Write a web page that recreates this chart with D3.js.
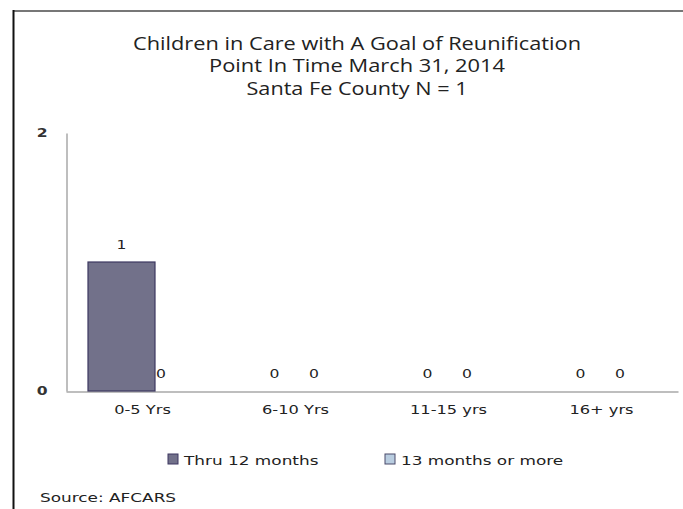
<!DOCTYPE html>
<html>
<head>
<meta charset="utf-8">
<script src="https://cdn.jsdelivr.net/npm/d3@7"></script>
<style>
  html, body { margin: 0; padding: 0; background: #fff; }
  svg { display: block; }
</style>
</head>
<body>
<svg id="chart" width="683" height="509"></svg>
<script>
const categories = ["0-5 Yrs", "6-10 Yrs", "11-15 yrs", "16+ yrs"];
const seriesNames = ["Thru 12 months", "13 months or more"];
const thru12 = [1, 0, 0, 0];
const over13 = [0, 0, 0, 0];
const yTicks = [0, 2];
const titleLines = [
  "Children in Care with A Goal of Reunification",
  "Point In Time March 31, 2014",
  "Santa Fe County N = 1"
];
const sourceText = "Source: AFCARS";

const colors = ["#72718a", "#b9cde0"];
const strokes = ["#3d3760", "#4a4a6a"];
const seriesValues = [thru12, over13];
const SX = 1.3; // horizontal stretch of the small text
const FONT = "'DejaVu Sans', sans-serif";

const svg = d3.select("#chart");

// frame
svg.append("line").attr("x1", 13).attr("x2", 683).attr("y1", 11).attr("y2", 11)
  .attr("stroke", "#777").attr("stroke-width", 2);
svg.append("line").attr("x1", 13.5).attr("x2", 13.5).attr("y1", 10).attr("y2", 509)
  .attr("stroke", "#111").attr("stroke-width", 2);

// title
const titleWidths = [448, 296, 221];
svg.append("g").selectAll("text").data(titleLines).join("text")
  .attr("x", 357).attr("y", (d, i) => 50 + i * 22.3)
  .attr("text-anchor", "middle")
  .attr("font-family", "'Open Sans', sans-serif")
  .attr("font-size", 17.5)
  .attr("fill", "#222")
  .attr("textLength", (d, i) => titleWidths[i])
  .attr("lengthAdjust", "spacingAndGlyphs")
  .text(d => d);

const plotLeft = 66, plotRight = 678, plotTop = 133, plotBottom = 391;

const x0 = d3.scaleBand().domain(categories).range([plotLeft, plotRight]).padding(0);
const x1 = d3.scaleBand().domain(d3.range(seriesNames.length)).range([22, 22 + 134]);
const y = d3.scaleLinear().domain([0, 2]).range([plotBottom, plotTop]);

// axes
const yAxis = d3.axisLeft(y).tickValues(yTicks).tickSize(0).tickPadding(19).tickFormat(d3.format("d"));
const gy = svg.append("g").attr("transform", `translate(${plotLeft + 0.5},0)`).call(yAxis);
gy.select(".domain").attr("stroke", "#a8a8a8").attr("stroke-width", 1.5);
gy.selectAll("text").attr("font-family", FONT).attr("font-size", 12)
  .attr("font-weight", "bold").attr("fill", "#333")
  .attr("x", -19 / SX).attr("transform", `scale(${SX},1)`);

const xAxis = d3.axisBottom(x0).tickSize(0).tickPadding(14);
const gx = svg.append("g").attr("transform", `translate(0,${plotBottom + 0.5})`).call(xAxis);
gx.select(".domain").attr("stroke", "#a8a8a8").attr("stroke-width", 1.5);
gx.selectAll("text").attr("font-family", FONT).attr("font-size", 12.5)
  .attr("fill", "#222").attr("transform", `scale(${SX},1)`);

// bars
const rows = [];
seriesValues.forEach((vals, s) => vals.forEach((v, i) => rows.push({ s, cat: categories[i], v })));

svg.append("g").selectAll("rect").data(rows.filter(d => d.v > 0)).join("rect")
  .attr("x", d => x0(d.cat) + x1(d.s))
  .attr("y", d => y(d.v))
  .attr("width", x1.bandwidth())
  .attr("height", d => y(0) - y(d.v))
  .attr("fill", d => colors[d.s])
  .attr("stroke", d => strokes[d.s])
  .attr("stroke-width", 1.2);

// data labels
svg.append("g").selectAll("g").data(rows).join("g")
  .attr("transform", d => `translate(${x0(d.cat) + x1(d.s) + (d.s === 0 ? x1.bandwidth() / 2 : 6)},${y(d.v) - 13})`)
  .append("text")
  .attr("transform", `scale(${SX},1)`)
  .attr("text-anchor", "middle")
  .attr("font-family", FONT)
  .attr("font-size", 12)
  .attr("fill", "#222")
  .text(d => d.v);

// legend
const legendX = [168, 385];
const lg = svg.append("g").selectAll("g").data(seriesNames).join("g")
  .attr("transform", (d, i) => `translate(${legendX[i]},454)`);
lg.append("rect").attr("width", 10).attr("height", 10)
  .attr("fill", (d, i) => colors[i]).attr("stroke", (d, i) => strokes[i]).attr("stroke-width", 1);
lg.append("text").attr("x", 16 / SX).attr("y", 10.5)
  .attr("transform", `scale(${SX},1)`)
  .attr("font-family", FONT).attr("font-size", 13)
  .attr("fill", "#222")
  .text(d => d);

// source
svg.append("text").attr("x", 40 / SX).attr("y", 502)
  .attr("transform", `scale(${SX},1)`)
  .attr("font-family", FONT).attr("font-size", 13)
  .attr("fill", "#222")
  .text(sourceText);
</script>
</body>
</html>
